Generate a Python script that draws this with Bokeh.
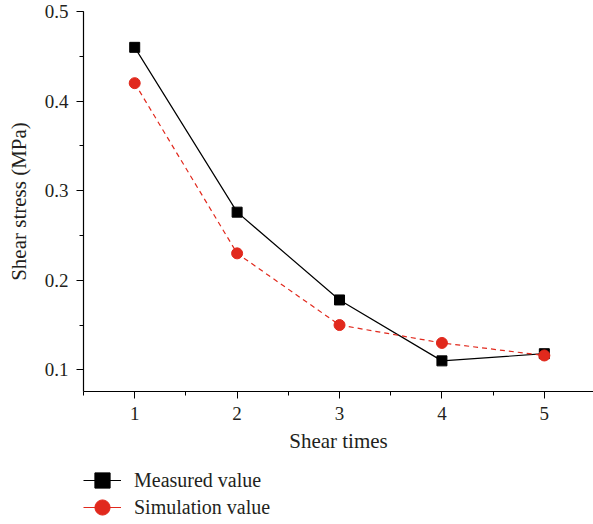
from bokeh.plotting import figure
from bokeh.layouts import column
from bokeh.models import Legend, LegendItem, SingleIntervalTicker, Range1d
from bokeh.embed import file_html
from bokeh.resources import INLINE

shear_times = [1, 2, 3, 4, 5]
measured = [0.460, 0.276, 0.178, 0.110, 0.118]
simulation = [0.420, 0.230, 0.150, 0.130, 0.116]
series_names = ["Measured value", "Simulation value"]

FONT = "Liberation Serif"
RED = "#e1291d"
INK = "#231f20"

p = figure(width=593, height=458, output_backend="svg", toolbar_location=None,
           x_range=Range1d(0.5, 5.48), y_range=Range1d(0.0758, 0.5),
           min_border_left=83, min_border_top=11, min_border_right=0, min_border_bottom=67)
p.outline_line_color = None
p.grid.visible = False

p.line(shear_times, measured, line_color="black", line_width=1.2)
p.scatter(shear_times, measured, marker="square", size=10, fill_color="black", line_color="black")
p.line(shear_times, simulation, line_color=RED, line_width=1.2, line_dash="5 4")
p.scatter(shear_times, simulation, marker="circle", size=11, fill_color=RED, line_color=RED)

p.xaxis.ticker = SingleIntervalTicker(interval=1, num_minor_ticks=2)
p.yaxis.ticker = SingleIntervalTicker(interval=0.1, num_minor_ticks=2)
for ax in (p.xaxis[0], p.yaxis[0]):
    ax.axis_line_color = "black"
    ax.axis_line_width = 1.2
    ax.major_tick_line_color = "black"
    ax.minor_tick_line_color = "black"
    ax.major_tick_out = 7
    ax.major_tick_in = 0
    ax.minor_tick_out = 4
    ax.minor_tick_in = 0
    ax.major_label_text_font = FONT
    ax.major_label_text_font_size = "19px"
    ax.major_label_text_color = INK
    ax.axis_label_text_font = FONT
    ax.axis_label_text_font_size = "21px"
    ax.axis_label_text_font_style = "normal"
    ax.axis_label_text_color = INK
    ax.major_label_standoff = 8
p.xaxis.axis_label = "Shear times"
p.yaxis.axis_label = "Shear stress (MPa)"
p.xaxis.axis_label_standoff = 6
p.yaxis.axis_label_standoff = 11

# legend strip below the chart (its series lie outside its own view range)
lg = figure(width=593, height=66, output_backend="svg", toolbar_location=None,
            x_range=Range1d(100, 101), y_range=Range1d(100, 101),
            min_border_left=0, min_border_top=0, min_border_right=0, min_border_bottom=0)
lg.outline_line_color = None
lg.axis.visible = False
lg.grid.visible = False
l1 = lg.line(shear_times, measured, line_color="black", line_width=1.2)
m1 = lg.scatter(shear_times, measured, marker="square", fill_color="black", line_color="black")
l2 = lg.line(shear_times, simulation, line_color=RED, line_width=1.2)
m2 = lg.scatter(shear_times, simulation, marker="circle", fill_color=RED, line_color=RED)

common = dict(orientation="vertical", glyph_width=38, glyph_height=40, padding=0, margin=0,
              label_standoff=13, border_line_color=None, background_fill_alpha=0,
              label_text_font=FONT, label_text_font_size="20px", label_text_color=INK)
leg1 = Legend(items=[LegendItem(label=series_names[0], renderers=[l1, m1])], location=(0, 24), **common)
leg2 = Legend(items=[LegendItem(label=series_names[1], renderers=[l2, m2])], location=(0, -3), **common)
lg.add_layout(leg1)
lg.add_layout(leg2)

open("out.html", "w").write(file_html(column(p, lg, spacing=0), INLINE))
